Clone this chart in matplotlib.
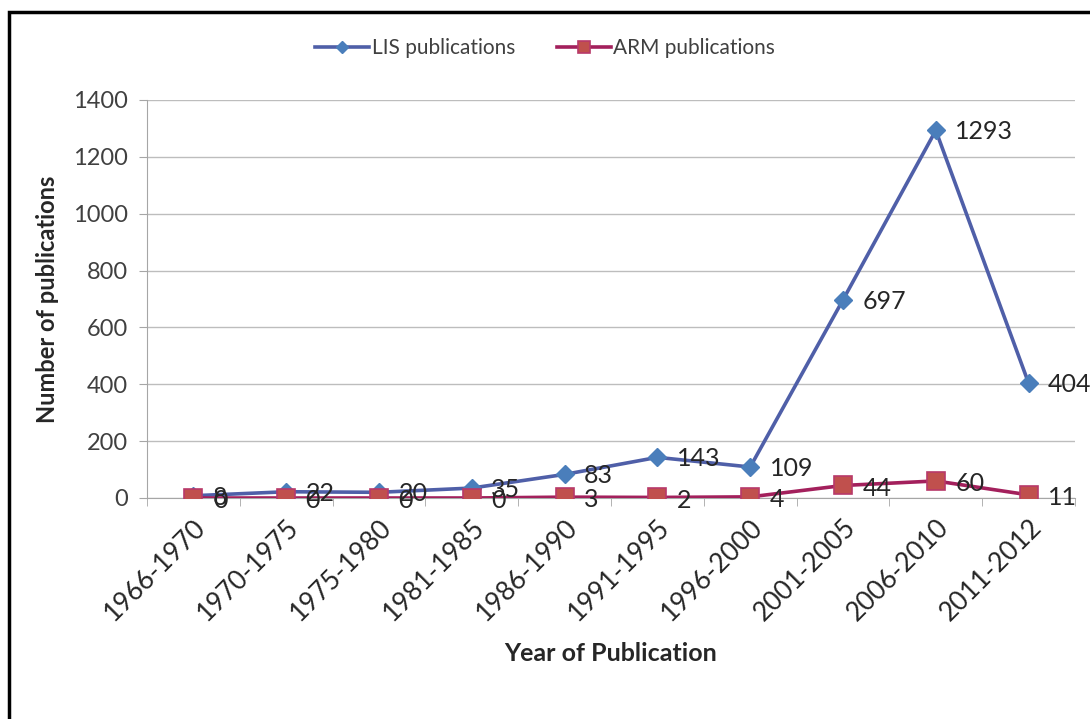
import matplotlib.pyplot as plt
from matplotlib.patches import Rectangle

# data
periods = ['1966-1970', '1970-1975', '1975-1980', '1981-1985', '1986-1990',
           '1991-1995', '1996-2000', '2001-2005', '2006-2010', '2011-2012']
lis = [8, 22, 20, 35, 83, 143, 109, 697, 1293, 404]
arm = [0, 0, 0, 0, 3, 2, 4, 44, 60, 11]

plt.rcParams['font.family'] = ['Lato', 'DejaVu Sans']

fig = plt.figure(figsize=(10.9, 7.19), dpi=100)
ax = fig.add_axes([147/1090, 1 - 498/719, 928/1090, 398/719])

x = list(range(len(periods)))
ax.plot(x, lis, color='#4F5FA8', lw=2.6, marker='D', ms=9,
        mfc='#4A7EBB', mec='#4A7EBB', label='LIS publications', zorder=3)
ax.plot(x, arm, color='#A3205C', lw=2.6, marker='s', ms=12.5,
        mfc='#C0504D', mec='#B8396A', mew=1.2, label='ARM publications', zorder=4)

# data labels to the right of each point
for i in x:
    ax.annotate(str(lis[i]), (i, lis[i]), xytext=(14, -1), textcoords='offset points',
                ha='left', va='center', fontsize=18, color='#262626', zorder=5,
                annotation_clip=False)
    ax.annotate(str(arm[i]), (i, arm[i]), xytext=(14, -2), textcoords='offset points',
                ha='left', va='center', fontsize=18, color='#262626', zorder=5,
                annotation_clip=False)

ax.set_xlim(-0.5, len(periods) - 0.5)
ax.set_ylim(0, 1400)
ax.set_yticks(range(0, 1401, 200))
ax.set_xticks(x)
ax.set_xticklabels(periods, rotation=45, ha='right', rotation_mode='anchor',
                   fontsize=19, color='#262626')
ax.set_xticks([i - 0.5 for i in range(len(periods) + 1)], minor=True)
ax.tick_params(axis='x', which='major', length=0, pad=12)
ax.tick_params(axis='x', which='minor', length=6, color='#A6A6A6', direction='out')
ax.tick_params(axis='y', length=6, color='#A6A6A6', labelsize=17, labelcolor='#404040', pad=8)

ax.grid(axis='y', color='#BDBDBD', lw=1)
ax.set_axisbelow(True)
for s in ['top', 'right']:
    ax.spines[s].set_visible(False)
ax.spines['left'].set_color('#A6A6A6')
ax.spines['bottom'].set_color('#A6A6A6')

ax.set_ylabel('Number of publications', fontsize=17, weight='bold', color='#262626', labelpad=10)
ax.set_xlabel('Year of Publication', fontsize=18, weight='bold', color='#262626', labelpad=12)

ax.legend(loc='center', bbox_to_anchor=(0.5, 1 - 48/719), bbox_transform=fig.transFigure,
          ncol=2, frameon=False, fontsize=15, handlelength=2.6, handletextpad=0.1,
          columnspacing=2.0, markerscale=0.7, labelcolor='#404040')

# outer chart frame (cut at right and bottom in the original)
fig.patches.append(Rectangle((9/1090, -0.05), 1.1, 1.05 - 12/719, transform=fig.transFigure,
                             fill=False, ec='black', lw=2.5))

plt.savefig('out.png', dpi=100)
